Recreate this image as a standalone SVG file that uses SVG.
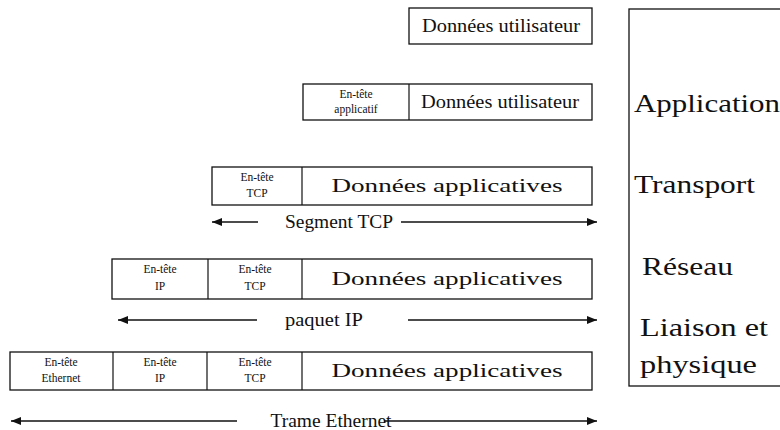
<svg xmlns="http://www.w3.org/2000/svg" width="780" height="430" viewBox="0 0 780 430">
  <style>
    .box { fill: #fff; stroke: #111; stroke-width: 1.3; }
    .div { stroke: #111; stroke-width: 1.2; }
    .t { font-family: "Liberation Serif", "Times New Roman", serif; fill: #111; text-anchor: middle; }
    .big { font-size: 19px; }
    .sm { font-size: 11.5px; }
    .lbl { font-size: 19px; }
    .layer { font-family: "Liberation Serif", "Times New Roman", serif; fill: #111; font-size: 26px; }
    .ln { stroke: #111; stroke-width: 1.3; fill: none; }
  </style>
  <defs>
    <marker id="head" viewBox="0 0 10 8" refX="10" refY="4" markerWidth="10" markerHeight="8" markerUnits="userSpaceOnUse" orient="auto-start-reverse">
      <path d="M0,0 L10,4 L0,8 Z" fill="#111"/>
    </marker>
  </defs>
  <rect width="780" height="430" fill="#fff"/>

  <!-- layer panel -->
  <g id="layers">
    <rect class="box" x="629" y="9" width="160" height="377"/>
    <text class="layer" x="634" y="112" textLength="146" lengthAdjust="spacingAndGlyphs">Application</text>
    <text class="layer" x="634" y="193" textLength="121" lengthAdjust="spacingAndGlyphs">Transport</text>
    <text class="layer" x="642" y="275" textLength="91" lengthAdjust="spacingAndGlyphs">Réseau</text>
    <text class="layer" x="640" y="336" textLength="128" lengthAdjust="spacingAndGlyphs">Liaison et</text>
    <text class="layer" x="640" y="373" textLength="117" lengthAdjust="spacingAndGlyphs">physique</text>
  </g>

  <!-- user data -->
  <g id="user-data">
    <rect class="box" x="409" y="8" width="183" height="36"/>
    <text class="t big" x="501" y="32" textLength="158" lengthAdjust="spacingAndGlyphs">Données utilisateur</text>
  </g>

  <!-- application message -->
  <g id="app-message">
    <rect class="box" x="303" y="84" width="289" height="36"/>
    <line class="div" x1="409" y1="84" x2="409" y2="120"/>
    <text class="t sm" x="356" y="98">En-tête</text>
    <text class="t sm" x="356" y="113">applicatif</text>
    <text class="t big" x="500" y="108" textLength="158" lengthAdjust="spacingAndGlyphs">Données utilisateur</text>
  </g>

  <!-- TCP segment -->
  <g id="tcp-segment">
    <rect class="box" x="212" y="167" width="380" height="38"/>
    <line class="div" x1="302" y1="167" x2="302" y2="205"/>
    <text class="t sm" x="257" y="181">En-tête</text>
    <text class="t sm" x="257" y="197">TCP</text>
    <text class="t big" x="447" y="192" textLength="231" lengthAdjust="spacingAndGlyphs">Données applicatives</text>
  </g>

  <!-- IP packet -->
  <g id="ip-packet">
    <rect class="box" x="112" y="259" width="480" height="40"/>
    <line class="div" x1="208" y1="259" x2="208" y2="299"/>
    <line class="div" x1="302" y1="259" x2="302" y2="299"/>
    <text class="t sm" x="160" y="273">En-tête</text>
    <text class="t sm" x="160" y="290">IP</text>
    <text class="t sm" x="255" y="273">En-tête</text>
    <text class="t sm" x="255" y="290">TCP</text>
    <text class="t big" x="447" y="285" textLength="231" lengthAdjust="spacingAndGlyphs">Données applicatives</text>
  </g>

  <!-- Ethernet frame -->
  <g id="eth-frame">
    <rect class="box" x="10" y="352" width="582" height="38"/>
    <line class="div" x1="113" y1="352" x2="113" y2="390"/>
    <line class="div" x1="207" y1="352" x2="207" y2="390"/>
    <line class="div" x1="302" y1="352" x2="302" y2="390"/>
    <text class="t sm" x="61" y="366">En-tête</text>
    <text class="t sm" x="61" y="382">Ethernet</text>
    <text class="t sm" x="160" y="366">En-tête</text>
    <text class="t sm" x="160" y="382">IP</text>
    <text class="t sm" x="255" y="366">En-tête</text>
    <text class="t sm" x="255" y="382">TCP</text>
    <text class="t big" x="447" y="377" textLength="231" lengthAdjust="spacingAndGlyphs">Données applicatives</text>
  </g>

  <!-- span arrows -->
  <g id="connectors">
    <line class="ln" x1="258" y1="222" x2="212" y2="222" marker-end="url(#head)"/>
    <text class="t lbl" x="339" y="228" textLength="108" lengthAdjust="spacingAndGlyphs">Segment TCP</text>
    <line class="ln" x1="401" y1="222" x2="597" y2="222" marker-end="url(#head)"/>

    <line class="ln" x1="257" y1="320" x2="118" y2="320" marker-end="url(#head)"/>
    <text class="t lbl" x="324" y="326" textLength="78" lengthAdjust="spacingAndGlyphs">paquet IP</text>
    <line class="ln" x1="408" y1="320" x2="597" y2="320" marker-end="url(#head)"/>

    <line class="ln" x1="237" y1="421" x2="11" y2="421" marker-end="url(#head)"/>
    <text class="t lbl" x="331" y="427" textLength="121" lengthAdjust="spacingAndGlyphs">Trame Ethernet</text>
    <line class="ln" x1="384" y1="421" x2="597" y2="421" marker-end="url(#head)"/>
  </g>
</svg>
